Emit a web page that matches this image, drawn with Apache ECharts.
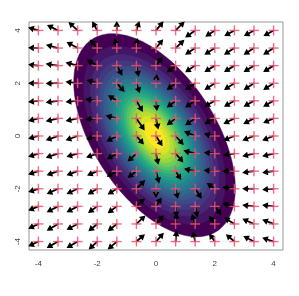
<!DOCTYPE html>
<html><head><meta charset="utf-8">
<script src="https://cdn.jsdelivr.net/npm/echarts@6/dist/echarts.min.js"></script>
<style>html,body{margin:0;padding:0;background:#fff}#c{width:299px;height:296px}</style>
</head><body><div id="c"></div>
<script>
// grid of evaluation points (same for x and y)
const gridVals = [-4, -3.333, -2.667, -2, -1.333, -0.667, 0, 0.667, 1.333, 2, 2.667, 3.333, 4];
const tickVals = [-4, -2, 0, 2, 4];
// density: centre, covariance, filled contour levels (fraction of peak)
const densCenter = [-0.05, 0.03];
const densCov = [[1.26, -0.92], [-0.92, 2.47]];
const levels = [0.05,0.10,0.15,0.20,0.25,0.30,0.35,0.40,0.45,0.50,0.55,0.60,0.65,0.70,0.75,0.80,0.85,0.90,0.95];
// arrow components, rows from y = 4 (top) to y = -4 (bottom), columns x = -4 .. 4
const arrowU = [
 [-0.31,-0.34,-0.28,-0.15, 0.00, 0.09, 0.23, 0.28,-0.31,-0.29,-0.31,-0.31,-0.31],
 [-0.31,-0.37,-0.34,-0.23,-0.07, 0.03, 0.22, 0.27,-0.31,-0.32,-0.32,-0.32,-0.32],
 [-0.31,-0.38,-0.37,-0.32, 0.17, 0.07, 0.20,-0.27,-0.31,-0.32,-0.32,-0.32,-0.32],
 [-0.31,-0.38,-0.37,-0.32, 0.24, 0.10, 0.03,-0.27,-0.31,-0.32,-0.32,-0.32,-0.32],
 [-0.31,-0.38,-0.37,-0.37,-0.27, 0.20, 0.03,-0.27,-0.31,-0.32,-0.32,-0.32,-0.32],
 [-0.31,-0.38,-0.37,-0.37,-0.34, 0.26, 0.07,-0.27,-0.31,-0.32,-0.34,-0.33,-0.32],
 [-0.31,-0.38,-0.37,-0.34,-0.32, 0.23, 0.20, 0.25,-0.34,-0.33,-0.34,-0.36,-0.35],
 [-0.31,-0.38,-0.34,-0.34,-0.31,-0.27, 0.07, 0.24,-0.36,-0.33,-0.34,-0.36,-0.35],
 [-0.31,-0.35,-0.34,-0.31,-0.31,-0.27, 0.10, 0.17,-0.34,-0.34,-0.37,-0.36,-0.35],
 [-0.31,-0.35,-0.34,-0.29,-0.28, 0.27, 0.00, 0.07, 0.20,-0.24,-0.37,-0.36,-0.35],
 [-0.31,-0.35,-0.34,-0.28,-0.28, 0.26, 0.17, 0.03, 0.07, 0.20,-0.37,-0.36,-0.35],
 [-0.31,-0.35,-0.34,-0.27,-0.28, 0.28, 0.24, 0.03,-0.10,-0.17,-0.32,-0.36,-0.35],
 [-0.31,-0.35,-0.34,-0.26,-0.28, 0.26, 0.24, 0.03,-0.07,-0.17,-0.26,-0.33,-0.35]
];
const arrowV = [
 [ 0.10, 0.19, 0.29, 0.31, 0.31, 0.31, 0.31, 0.31,-0.24,-0.21,-0.19,-0.19,-0.19],
 [ 0.01, 0.11, 0.21, 0.29, 0.34, 0.34, 0.30, 0.28,-0.23,-0.23,-0.23,-0.23,-0.23],
 [ 0.04, 0.06, 0.11, 0.20,-0.34,-0.38, 0.30,-0.23,-0.23,-0.22,-0.22,-0.22,-0.22],
 [ 0.00,-0.01, 0.05, 0.11,-0.30,-0.34, 0.30,-0.23,-0.23,-0.23,-0.23,-0.23,-0.23],
 [-0.04,-0.06,-0.04, 0.06, 0.19,-0.38,-0.34,-0.23,-0.23,-0.20,-0.20,-0.20,-0.20],
 [-0.09,-0.10,-0.09,-0.04, 0.10,-0.42,-0.38,-0.23,-0.23,-0.19,-0.19,-0.19,-0.16],
 [-0.09,-0.15,-0.15,-0.11,-0.19,-0.29,-0.35,-0.31, 0.16, 0.08,-0.15,-0.15,-0.15],
 [-0.11,-0.14,-0.11,-0.13,-0.19,-0.27,-0.38,-0.30, 0.11, 0.04,-0.05,-0.09,-0.09],
 [-0.11,-0.14,-0.14,-0.15,-0.19,-0.23,-0.42,-0.30, 0.08, 0.03, 0.00,-0.05,-0.05],
 [-0.11,-0.18,-0.18,-0.19,-0.19, 0.30,-0.30,-0.34,-0.34, 0.19, 0.05, 0.00,-0.03],
 [-0.14,-0.20,-0.20,-0.22,-0.23, 0.28, 0.30,-0.38,-0.38,-0.30, 0.11, 0.05, 0.05],
 [-0.16,-0.23,-0.20,-0.25,-0.25, 0.29, 0.30, 0.38, 0.34, 0.27, 0.22, 0.18, 0.15],
 [-0.16,-0.22,-0.22,-0.27,-0.27, 0.25, 0.30, 0.38, 0.34, 0.27, 0.25, 0.19, 0.13]
];

// viridis palette (style)
const vStops = ['#440154','#472D7B','#3B528B','#2C728E','#21918C','#28AE80','#5EC962','#ADDC30','#FDE725'];
function hex2rgb(h){return [parseInt(h.substr(1,2),16),parseInt(h.substr(3,2),16),parseInt(h.substr(5,2),16)];}
function viridis(n){
  const out=[];
  for(let i=0;i<n;i++){
    const t=n===1?0:i/(n-1), p=t*(vStops.length-1), k=Math.min(Math.floor(p),vStops.length-2), f=p-k;
    const a=hex2rgb(vStops[k]), b=hex2rgb(vStops[k+1]);
    out.push('rgb('+a.map((c,j)=>Math.round(c+(b[j]-c)*f)).join(',')+')');
  }
  return out;
}
const bandColors = viridis(levels.length);

const L11 = Math.sqrt(densCov[0][0]);
const L21 = densCov[1][0]/L11;
const L22 = Math.sqrt(densCov[1][1]-L21*L21);

const contourData = levels.map((l,i)=>[densCenter[0], densCenter[1], l, i]);
const arrowData = [], pointData = [];
for(let r=0;r<gridVals.length;r++){
  const y = gridVals[gridVals.length-1-r];
  for(let c=0;c<gridVals.length;c++){
    const x = gridVals[c];
    arrowData.push([x, y, arrowU[r][c], arrowV[r][c]]);
    pointData.push([x, y]);
  }
}

const chart = echarts.init(document.getElementById('c'), null, {renderer:'canvas'});
const axisCommon = {
  type:'value', min:-4.32, max:4.32,
  axisLine:{show:false},
  splitLine:{show:false},
  axisTick:{show:true, inside:false, length:4, lineStyle:{color:'#888', width:1}, customValues:tickVals},
  axisLabel:{customValues:tickVals, color:'#444', fontSize:8, fontFamily:'Liberation Sans, Arial, sans-serif'}
};
chart.setOption({
  animation:false,
  grid:{left:29, top:22, width:254, height:228, show:true, borderColor:'#999', borderWidth:1, backgroundColor:'transparent'},
  xAxis: Object.assign({}, axisCommon, {axisLabel:Object.assign({}, axisCommon.axisLabel, {margin:10})}),
  yAxis: Object.assign({}, axisCommon, {axisLabel:Object.assign({}, axisCommon.axisLabel, {margin:7, rotate:90})}),
  series:[
    {
      type:'custom', z:1, clip:true, data:contourData, silent:true,
      renderItem:function(params, api){
        const cx=api.value(0), cy=api.value(1), lev=api.value(2), k=api.value(3);
        const s=Math.sqrt(-2*Math.log(lev));
        const pts=[];
        for(let t=0;t<160;t++){
          const a=t/160*2*Math.PI;
          pts.push(api.coord([cx+s*L11*Math.cos(a), cy+s*(L21*Math.cos(a)+L22*Math.sin(a))]));
        }
        return {type:'polygon', shape:{points:pts}, style:{fill:bandColors[k], stroke:bandColors[k], lineWidth:0.5}};
      }
    },
    {
      type:'custom', z:2, clip:false, data:arrowData, silent:true,
      renderItem:function(params, api){
        const x=api.value(0), y=api.value(1), u=api.value(2), v=api.value(3);
        const p0=api.coord([x,y]), p1=api.coord([x+u,y+v]);
        const ang=Math.atan2(p1[1]-p0[1], p1[0]-p0[0]);
        const hl=4.6, ha=Math.PI/6;
        const h1=[p1[0]-hl*Math.cos(ang-ha), p1[1]-hl*Math.sin(ang-ha)];
        const h2=[p1[0]-hl*Math.cos(ang+ha), p1[1]-hl*Math.sin(ang+ha)];
        return {type:'group', children:[
          {type:'line', shape:{x1:p0[0],y1:p0[1],x2:p1[0]-2*Math.cos(ang),y2:p1[1]-2*Math.sin(ang)}, style:{stroke:'#000', lineWidth:1.8}},
          {type:'polygon', shape:{points:[h1,p1,h2]}, style:{stroke:'#000', lineWidth:1.2, fill:'#000', lineJoin:'miter'}}
        ]};
      }
    },
    {
      type:'custom', z:3, clip:false, data:pointData, silent:true,
      renderItem:function(params, api){
        const p=api.coord([api.value(0), api.value(1)]);
        const a=5;
        const st={stroke:'rgba(232,84,112,0.85)', lineWidth:1.4};
        return {type:'group', children:[
          {type:'line', shape:{x1:p[0]-a,y1:p[1],x2:p[0]+a,y2:p[1]}, style:st},
          {type:'line', shape:{x1:p[0],y1:p[1]-a,x2:p[0],y2:p[1]+a}, style:st}
        ]};
      }
    }
  ]
});
</script></body></html>
